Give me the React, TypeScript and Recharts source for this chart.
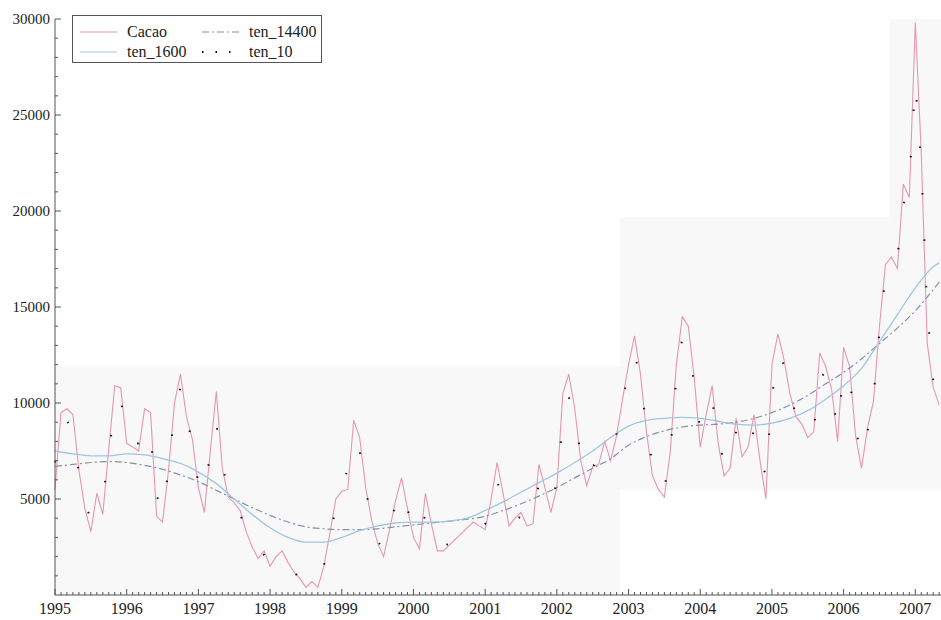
import { Legend, Line, LineChart, ReferenceArea, XAxis, YAxis } from "recharts";

const years = ["1995", "1996", "1997", "1998", "1999", "2000", "2001", "2002", "2003", "2004", "2005", "2006", "2007"];
const yLabels = [5000, 10000, 15000, 20000, 25000, 30000];

// monthly, Jan 1995 .. May 2007
const cacao = [
  5500, 9500, 9700, 9400, 6500, 4500, 3300, 5300, 4200, 7600, 10900, 10800,
  7900, 7700, 7500, 9700, 9500, 4100, 3800, 6500, 10000, 11500, 9300, 8100,
  5600, 4300, 7500, 10600, 6600, 5100, 4800, 4400, 3300, 2500, 1900, 2300,
  1500, 2000, 2300, 1700, 1200, 850, 400, 700, 400, 1500, 3200, 5000,
  5400, 5500, 9100, 8200, 5600, 3900, 2700, 2000, 3400, 4900, 6100, 4500,
  3000, 2400, 5300, 3700, 2300, 2300, 2600, 2900, 3200, 3500, 3800, 3600,
  3400, 5000, 6900, 5300, 3600, 4000, 4300, 3600, 3700, 6800, 5600, 4300,
  5600, 10500, 11500, 9700, 7000, 5700, 6700, 6800, 8000, 7000, 8300, 10200,
  12000, 13500, 11500, 8500, 6200, 5500, 5100, 7500, 12000, 14500, 14000, 11300,
  7700, 9400, 10900, 7900, 6200, 6600, 9200, 7200, 7700, 9400, 7000, 5000,
  12000, 13600, 12300, 10500, 9300, 8900, 8200, 8500, 12600, 11900, 10700, 8000,
  12900, 11900, 8300, 6600, 8700, 10100, 14000, 17200, 17600, 17000, 21400, 20700,
  29800, 23000, 13100, 10800, 9900,
];

const ten10 = [
  6900, 8700, 9100, 8400, 6400, 4700, 4000, 4700, 5000, 7300, 9900, 10200,
  8300, 7800, 7900, 8800, 8200, 5200, 4300, 6500, 9600, 10800, 9400, 7800,
  5800, 5300, 7400, 8900, 6900, 5300, 4700, 4200, 3400, 2600, 2100, 2100,
  1700, 1900, 2000, 1700, 1200, 850, 550, 600, 600, 1500, 3000, 4600,
  5500, 6600, 8000, 7500, 5500, 3900, 2800, 2400, 3400, 4800, 5500, 4500,
  3200, 3100, 4200, 3600, 2700, 2500, 2700, 2900, 3200, 3500, 3700, 3600,
  3700, 4800, 5900, 5100, 4000, 3900, 4100, 3800, 4200, 5800, 5400, 4700,
  5900, 9000, 10300, 9300, 7300, 6200, 6700, 7000, 7700, 7500, 8400, 10000,
  11800, 12600, 11200, 8700, 6800, 5900, 5500, 7500, 11300, 13400, 13200, 10900,
  8600, 9200, 10100, 8300, 6800, 7000, 8500, 7600, 7400, 8600, 7200, 6200,
  10300, 12600, 12000, 10500, 9400, 8900, 8400, 8600, 11300, 11600, 10400, 8700,
  11600, 11300, 8700, 7200, 8500, 10300, 13700, 16600, 17300, 17600, 20300, 21600,
  26700, 22400, 14800, 11200, 9800,
];

// HP trends read quarterly
const trendMonths = [
  0, 3, 6, 9, 12, 15, 18, 21, 24, 27, 30, 33, 36, 39, 42, 45, 48, 51, 54, 57, 60, 63, 66, 69, 72,
  75, 78, 81, 84, 87, 90, 93, 96, 99, 102, 105, 108, 111, 114, 117, 120, 123, 126, 129, 132, 135,
  138, 141, 144, 147, 148,
];
const ten1600 = [
  7500, 7350, 7250, 7250, 7350, 7300, 7100, 6850, 6400, 5800, 5000, 4200, 3500, 3000, 2750, 2750, 3000,
  3350, 3600, 3750, 3800, 3800, 3850, 4000, 4400, 4850, 5350, 5850, 6350, 6900, 7500, 8200, 8800, 9100,
  9200, 9250, 9200, 9050, 8900, 8850, 8950, 9200, 9600, 10200, 10900, 11800, 13200, 14600, 16000, 17100,
  17300,
];
const ten14400 = [
  6700, 6800, 6900, 6950, 6900, 6750, 6550, 6250, 5900, 5450, 5000, 4550, 4150, 3800, 3550, 3450, 3400,
  3400, 3450, 3550, 3650, 3750, 3850, 3950, 4100, 4400, 4750, 5150, 5600, 6100, 6600, 7100, 7800, 8250,
  8550, 8750, 8850, 8900, 9000, 9200, 9500, 9900, 10400, 11000, 11600, 12300, 13100, 13900, 14800, 15900,
  16300,
];

const series = [
  { key: "cacao", name: "Cacao", color: "#e596b0", width: 1.1, dash: undefined },
  { key: "ten_14400", name: "ten_14400", color: "#8490aa", width: 1.2, dash: "7 3 2 3" },
  { key: "ten_1600", name: "ten_1600", color: "#a0c6de", width: 1.3, dash: undefined },
  { key: "ten_10", name: "ten_10", color: "#111111", width: 2, dash: "1.5 45" },
];

const data = cacao.map((v, m) => {
  const ti = trendMonths.indexOf(m);
  return {
    m,
    cacao: v,
    ten_10: ten10[m],
    ten_1600: ti >= 0 ? ten1600[ti] : null,
    ten_14400: ti >= 0 ? ten14400[ti] : null,
  };
});

const monthTicks = cacao.map((_, m) => m);
const yTicks = Array.from({ length: 30 }, (_, i) => (i + 1) * 1000);
const font = "'Liberation Serif', 'Times New Roman', serif";

function XTick({ x, y, payload }: any) {
  const major = payload.value % 12 === 0;
  return (
    <g>
      <line x1={x} x2={x} y1={y} y2={y - (major ? 6 : 3)} stroke="#555" />
      {major && (
        <text x={x} y={y + 19} textAnchor="middle" fontFamily={font} fontSize={16} fill="#222">
          {years[payload.value / 12]}
        </text>
      )}
    </g>
  );
}

function YTick({ x, y, payload }: any) {
  const major = yLabels.includes(payload.value);
  return (
    <g>
      <line x1={x} x2={x + (major ? 6 : 3)} y1={y} y2={y} stroke="#555" />
      {major && (
        <text x={x - 5} y={y + 5} textAnchor="end" fontFamily={font} fontSize={15} fill="#222">
          {payload.value}
        </text>
      )}
    </g>
  );
}

function LegendBox() {
  const cells = [
    { s: series[0], lx: 8, ty: 17 },
    { s: series[1], lx: 130, ty: 17 },
    { s: series[2], lx: 8, ty: 37 },
    { s: series[3], lx: 130, ty: 37 },
  ];
  return (
    <svg width={250} height={48} style={{ display: "block" }}>
      <rect x={0.5} y={0.5} width={249} height={47} fill="#fff" stroke="#555" />
      {cells.map(({ s, lx, ty }) => (
        <g key={s.key}>
          <line
            x1={lx}
            x2={lx + 37}
            y1={ty}
            y2={ty}
            stroke={s.color}
            strokeWidth={s.key === "ten_10" ? 2 : 1.2}
            strokeDasharray={s.key === "ten_10" ? "1.5 12" : s.dash}
          />
          <text x={lx + 47} y={ty + 5} fontFamily={font} fontSize={16} fill="#222">
            {s.name}
          </text>
        </g>
      ))}
    </svg>
  );
}

export default function App() {
  return (
    <div style={{ position: "absolute", left: 0, top: 0, background: "#fff" }}>
      <LineChart width={941} height={620} data={data} margin={{ top: 19, right: 0, bottom: 0, left: 0 }}>
        <ReferenceArea x1={0} x2={94.6} y1={0} y2={11900} fill="#f8f8f8" fillOpacity={1} stroke="none" />
        <ReferenceArea x1={94.6} x2={139.7} y1={5500} y2={19700} fill="#f8f8f8" fillOpacity={1} stroke="none" />
        <ReferenceArea x1={139.7} x2={148.3} y1={5500} y2={30000} fill="#f8f8f8" fillOpacity={1} stroke="none" />
        <XAxis
          dataKey="m"
          type="number"
          domain={[0, 148.3]}
          ticks={monthTicks}
          interval={0}
          height={25}
          tickSize={0}
          tickMargin={0}
          tickLine={false}
          axisLine={{ stroke: "#555" }}
          tick={(p: any) => <XTick {...p} />}
        />
        <YAxis
          type="number"
          domain={[0, 30000]}
          ticks={yTicks}
          interval={0}
          width={55}
          tickSize={0}
          tickMargin={0}
          tickLine={false}
          axisLine={{ stroke: "#555" }}
          tick={(p: any) => <YTick {...p} />}
        />
        <Legend
          layout="vertical"
          align="center"
          verticalAlign="middle"
          wrapperStyle={{ left: 72, top: 15, width: 250, height: 48 }}
          content={() => <LegendBox />}
        />
        {series.map((s) => (
          <Line
            key={s.key}
            dataKey={s.key}
            name={s.name}
            type={s.key === "ten_1600" || s.key === "ten_14400" ? "monotone" : "linear"}
            stroke={s.color}
            strokeWidth={s.width}
            strokeDasharray={s.dash}
            dot={false}
            activeDot={false}
            connectNulls
            isAnimationActive={false}
          />
        ))}
      </LineChart>
    </div>
  );
}
